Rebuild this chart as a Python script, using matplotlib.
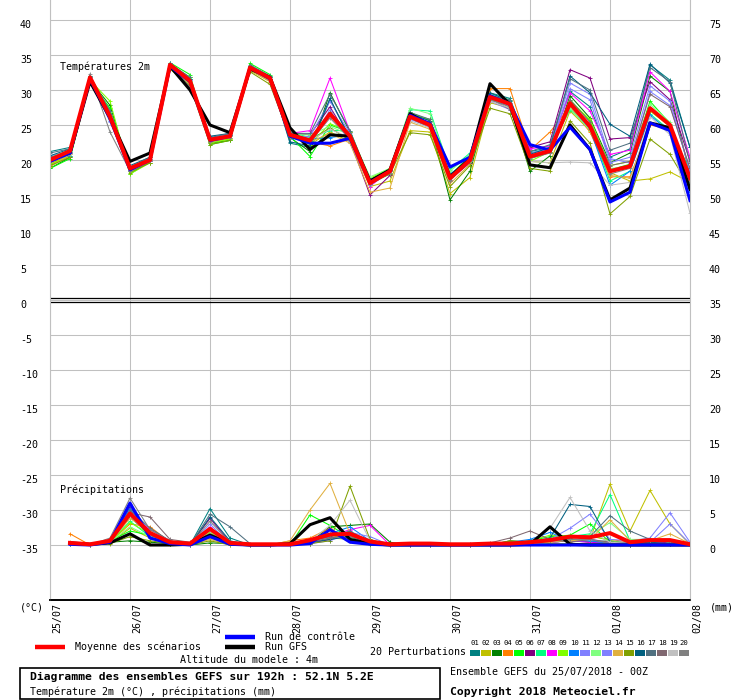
import matplotlib
matplotlib.use('Agg')
import matplotlib.pyplot as plt
from matplotlib.lines import Line2D
from matplotlib.patches import Rectangle
from matplotlib.transforms import ScaledTranslation

plt.rcParams['font.family'] = ['DejaVu Sans Mono', 'DejaVu Sans']

# ---------------- data ----------------
hours_t = list(range(0, 193, 6))          # temperature steps (h since 25/07 00Z)
hours_p = list(range(6, 193, 6))          # precipitation steps
day_ticks = [0, 24, 48, 72, 96, 120, 144, 168, 192]
day_labels = ['25/07', '26/07', '27/07', '28/07', '29/07', '30/07', '31/07', '01/08', '02/08']
temp_ticks = [-35, -30, -25, -20, -15, -10, -5, 0, 5, 10, 15, 20, 25, 30, 35, 40]
mm_ticks = [0, 5, 10, 15, 20, 25, 30, 35, 40, 45, 50, 55, 60, 65, 70, 75]

t_mean = [20.0, 21.3, 31.8, 26.2, 18.8, 20.0, 33.6, 31.3, 22.9, 23.4, 33.2, 31.7, 23.6, 22.8, 26.6, 23.4, 16.7,
          18.4, 26.2, 25.0, 17.4, 20.0, 29.0, 28.0, 20.5, 21.3, 28.1, 24.8, 18.4, 19.1, 27.4, 25.0, 17.4]
t_ctl = [19.8, 21.0, 31.6, 26.0, 18.6, 20.0, 33.4, 31.2, 22.8, 23.4, 33.2, 31.6, 23.4, 22.4, 22.4, 23.1, 16.8,
         18.4, 26.4, 25.2, 19.0, 20.4, 29.2, 28.0, 22.2, 21.4, 24.7, 21.5, 14.0, 15.4, 25.3, 24.2, 14.2]
t_gfs = [20.0, 21.0, 31.2, 26.0, 19.8, 21.0, 33.4, 30.0, 25.0, 23.9, 33.0, 31.8, 24.6, 21.5, 23.6, 23.4, 17.0,
         18.6, 26.6, 25.0, 17.6, 20.2, 30.9, 27.9, 19.3, 18.9, 25.0, 21.5, 14.3, 16.0, 25.3, 24.6, 15.8]

t01 = [21.2,21.8,31.6,26.8,18.6,20.2,33.4,31.6,23.0,23.6,33.0,31.8,22.4,21.8,28.6,23.2,16.6,18.6,26.4,25.8,17.6,20.4,29.6,28.8,21.2,21.8,29.8,27.6,20.4,21.6,33.6,31.4,21.8]
t02 = [19.2,20.6,31.2,27.2,18.4,19.8,33.2,30.8,22.6,23.0,32.8,31.2,23.8,22.2,24.0,22.6,16.2,17.0,24.2,24.0,15.2,17.5,28.2,27.4,19.8,19.6,27.0,24.2,18.2,17.0,17.3,18.3,16.8]
t03 = [18.8,20.4,31.4,27.8,18.4,19.6,33.6,31.8,22.4,22.8,33.4,31.6,23.2,21.2,29.6,24.0,16.8,18.2,26.6,25.2,14.3,18.4,28.8,27.6,18.4,20.6,29.2,26.0,19.6,21.0,32.0,29.8,17.8]
t04 = [19.4,20.8,31.6,26.4,18.8,20.0,33.4,31.2,22.8,23.4,33.0,31.6,23.4,22.6,22.0,23.0,16.4,18.6,26.0,25.4,17.6,20.2,30.2,30.2,21.4,24.0,27.6,24.0,17.6,17.6,25.0,24.4,18.0]
t05 = [18.8,20.2,31.2,27.4,18.0,19.8,33.9,32.2,22.2,22.8,33.8,32.2,23.4,20.5,25.0,24.0,17.2,18.8,26.8,25.6,17.8,20.6,29.2,28.2,20.2,21.2,28.6,25.6,18.6,19.4,28.4,25.2,16.6]
t06 = [19.6,21.0,31.8,26.0,18.8,20.2,33.6,31.0,23.0,23.6,33.2,31.8,23.8,23.6,27.6,22.8,15.0,17.8,26.2,25.0,17.2,19.6,28.8,27.8,21.8,22.6,32.9,31.7,23.0,23.2,31.2,28.6,19.8]
t07 = [19.8,21.2,32.0,27.0,18.6,20.4,33.8,31.6,23.2,23.6,33.4,32.0,24.0,23.2,24.2,24.2,17.0,18.6,27.2,27.0,18.6,21.0,29.4,28.6,21.0,21.6,27.2,24.6,17.0,18.4,26.6,24.2,18.6]
t08 = [20.2,21.4,31.6,26.6,18.4,19.8,33.4,31.4,22.8,23.4,33.2,31.6,23.8,24.2,31.7,24.0,16.2,18.6,26.4,25.4,17.6,20.4,29.0,28.2,21.6,22.0,29.6,27.0,20.8,21.4,32.6,29.8,20.4]
t09 = [19.4,20.6,31.4,28.4,18.0,19.6,33.2,31.8,22.4,23.0,33.0,31.8,23.6,22.2,25.2,24.0,17.4,18.8,26.6,25.8,17.4,20.6,28.6,27.8,19.8,21.2,28.4,25.8,19.2,19.8,27.0,24.8,17.4]
t10 = [20.0,20.6,31.2,25.6,18.6,20.2,33.4,31.0,23.0,23.6,33.2,31.4,23.8,23.0,23.2,23.6,16.8,18.0,26.0,25.2,18.0,20.0,28.6,27.8,20.8,21.0,27.8,24.4,16.4,18.4,26.4,24.0,15.4]
t11 = [20.6,21.2,31.8,25.4,18.8,20.0,33.6,31.4,23.2,23.8,33.4,31.8,23.0,23.4,28.4,23.8,16.8,18.4,25.8,24.8,17.6,19.8,28.4,27.2,20.6,21.8,31.0,29.4,20.2,19.6,29.8,27.8,18.6]
t12 = [20.4,21.4,32.0,26.8,18.8,20.4,33.6,31.8,23.0,23.4,33.4,31.8,23.6,23.6,24.8,23.6,17.6,18.8,27.4,26.6,18.4,20.8,29.4,28.4,20.2,21.4,27.4,24.2,18.8,19.0,28.0,25.4,17.2]
t13 = [20.2,21.0,31.6,25.8,18.4,19.8,33.8,31.6,22.8,23.2,33.2,31.4,23.4,22.4,27.2,22.4,16.4,18.2,26.2,24.8,17.2,19.8,29.0,27.6,21.0,21.6,30.2,28.6,19.6,20.4,30.6,28.4,18.4]
t14 = [19.0,20.8,31.4,26.4,18.6,20.0,33.2,30.8,22.6,23.2,32.8,31.2,23.2,22.6,23.8,22.4,15.4,16.0,25.4,24.4,16.6,19.4,28.6,28.0,20.4,21.0,27.8,24.6,17.8,17.4,25.2,24.2,16.2]
t15 = [19.2,20.4,31.0,26.2,18.2,19.6,33.0,30.6,22.2,22.8,32.6,30.8,23.2,22.8,24.6,22.8,16.6,18.0,23.9,23.6,16.2,19.2,27.4,26.6,18.8,18.4,25.6,22.4,12.3,14.8,23.0,20.8,16.0]
t16 = [20.6,21.6,32.0,26.6,19.2,20.4,33.6,31.6,23.4,23.8,33.4,31.8,22.6,22.0,28.8,23.0,17.0,18.6,26.6,25.6,17.6,20.4,29.6,28.4,20.8,21.8,32.0,29.6,25.1,23.4,33.7,31.0,21.8]
t17 = [21.0,21.6,31.8,27.0,19.0,20.4,33.8,31.8,23.2,23.8,33.6,32.0,23.8,23.8,29.4,24.2,17.2,18.4,26.8,25.8,17.8,20.2,29.2,28.6,21.2,22.2,31.6,30.0,21.4,22.4,33.2,31.2,19.6]
t18 = [20.4,21.2,31.6,25.8,18.6,20.0,33.4,31.2,22.8,23.4,33.0,31.4,23.6,23.0,26.8,23.4,16.6,18.4,26.0,24.6,17.0,20.0,28.8,27.2,20.4,21.2,28.6,25.4,19.2,19.8,29.4,27.6,18.8]
t19 = [19.8,20.8,31.4,26.2,18.6,20.2,33.6,31.2,22.8,23.4,33.2,31.6,23.4,22.8,24.4,23.2,16.8,18.2,25.6,24.6,17.4,19.8,28.4,27.4,19.8,19.6,19.7,19.6,16.4,16.8,26.2,23.6,12.4]
t20 = [20.2,21.0,32.3,24.0,18.4,19.8,33.6,30.4,22.6,23.2,33.4,31.6,23.4,22.6,26.0,23.0,16.6,18.2,26.2,25.0,17.2,19.8,28.6,27.6,20.2,21.0,28.0,24.4,18.0,18.8,27.4,25.0,16.8]

p_mean = [0.3,0.1,0.6,4.5,1.7,0.4,0.2,2.3,0.3,0.1,0.1,0.1,0.7,1.5,1.6,0.5,0.1,0.2,0.2,0.1,0.1,0.2,0.2,0.4,0.7,1.2,1.1,1.7,0.4,0.7,0.7,0.1]
p_ctl = [0.1,0.0,0.4,6.0,1.0,0.2,0.0,1.2,0.1,0.0,0.0,0.0,0.2,2.2,0.4,0.1,0.0,0.0,0.0,0.0,0.0,0.0,0.0,0.0,0.0,0.0,0.0,0.0,0.0,0.0,0.0,0.0]
p_gfs = [0.3,0.1,0.3,1.6,0.0,0.0,0.1,1.4,0.2,0.0,0.0,0.2,2.9,3.9,0.8,0.2,0.0,0.0,0.0,0.0,0.0,0.0,0.0,0.1,2.6,0.1,0.0,0.0,0.0,0.0,0.0,0.0]

p01 = [0.2,0.0,0.5,4.0,1.4,0.3,0.0,5.2,1.0,0.0,0.0,0.0,0.3,1.0,1.4,0.2,0.0,0.0,0.0,0.0,0.0,0.0,0.2,0.3,0.4,0.6,0.8,0.2,0.0,0.2,0.1,0.0]
p02 = [0.1,0.0,0.3,2.4,1.0,0.2,0.0,1.0,0.1,0.0,0.0,0.0,0.4,1.0,0.8,0.0,0.0,0.0,0.0,0.0,0.0,0.0,0.0,0.2,0.4,0.6,0.8,8.7,2.0,7.8,3.0,0.1]
p03 = [0.2,0.0,0.4,0.6,0.4,0.2,0.0,0.3,0.2,0.0,0.0,0.2,0.4,2.6,2.8,3.0,0.4,0.0,0.0,0.0,0.0,0.0,0.6,0.4,0.6,0.8,0.4,0.6,0.2,0.4,0.2,0.0]
p04 = [1.6,0.0,0.4,3.0,2.6,0.4,0.0,1.6,0.2,0.0,0.0,0.6,1.0,2.4,0.6,0.2,0.0,0.0,0.0,0.0,0.0,0.0,0.2,0.4,0.6,1.0,1.2,0.8,0.4,0.4,0.2,0.0]
p05 = [0.2,0.0,0.6,2.0,1.4,0.2,0.0,2.0,0.2,0.0,0.0,0.0,4.3,2.8,1.0,0.2,0.0,0.0,0.0,0.0,0.0,0.0,0.4,0.6,1.2,1.4,3.0,0.4,0.2,0.6,0.2,0.0]
p06 = [0.2,0.0,0.4,5.4,1.6,0.4,0.0,3.8,0.4,0.0,0.0,0.0,0.2,0.8,1.6,0.4,0.0,0.0,0.0,0.0,0.0,0.0,0.0,0.2,0.4,0.6,0.4,0.2,0.0,0.2,0.4,0.0]
p07 = [0.2,0.0,0.4,3.4,1.2,0.2,0.0,2.2,0.2,0.0,0.0,0.0,0.6,1.6,1.4,0.2,0.0,0.0,0.0,0.0,0.0,0.0,0.2,0.4,0.8,1.2,1.6,7.2,0.6,0.8,0.4,0.0]
p08 = [0.2,0.0,0.6,4.4,2.2,0.6,0.0,2.6,0.2,0.0,0.0,0.0,0.4,1.2,2.2,2.8,0.0,0.0,0.0,0.0,0.0,0.0,0.2,0.2,0.4,0.6,0.4,0.4,0.2,0.4,0.2,0.0]
p09 = [0.2,0.0,0.4,3.2,1.6,0.4,0.0,1.8,0.2,0.0,0.0,0.0,0.6,1.4,0.8,0.2,0.0,0.0,0.0,0.0,0.0,0.0,0.2,0.6,1.4,1.2,1.4,0.6,0.2,0.2,0.2,0.0]
p10 = [0.1,0.0,0.6,5.2,1.4,0.2,0.0,1.4,0.1,0.0,0.0,0.0,0.2,1.6,2.6,0.6,0.0,0.0,0.0,0.0,0.0,0.0,0.4,0.8,1.8,0.6,0.6,0.2,0.0,0.2,0.2,0.0]
p11 = [0.2,0.0,0.8,5.8,1.8,0.4,0.0,3.0,0.2,0.0,0.0,0.0,0.4,1.2,1.8,1.2,0.0,0.0,0.0,0.0,0.0,0.0,0.2,0.4,0.8,2.4,4.4,0.8,0.6,1.0,4.6,0.4]
p12 = [0.2,0.0,0.4,2.6,1.2,0.2,0.0,1.2,0.2,0.0,0.0,0.0,0.4,1.0,1.0,0.4,0.0,0.0,0.0,0.0,0.0,0.0,0.2,0.4,0.6,1.0,1.4,3.2,0.8,0.8,0.4,0.0]
p13 = [0.2,0.0,0.6,4.8,1.6,0.4,0.0,2.4,0.2,0.0,0.0,0.0,0.2,0.6,1.8,0.4,0.0,0.0,0.0,0.0,0.0,0.0,0.0,0.2,0.4,0.6,0.8,0.4,0.4,0.4,3.0,0.2]
p14 = [0.4,0.0,0.4,3.8,2.0,0.4,0.0,0.8,0.0,0.0,0.0,0.6,5.0,8.8,1.6,0.2,0.0,0.0,0.0,0.0,0.0,0.0,0.0,0.2,0.4,0.6,0.8,3.6,0.6,0.6,1.6,0.2]
p15 = [0.2,0.0,0.2,1.2,0.6,0.2,0.0,0.6,0.0,0.0,0.0,0.0,0.2,0.6,8.4,0.8,0.0,0.0,0.0,0.0,0.0,0.0,0.6,0.4,0.2,0.2,0.2,0.2,0.0,0.2,0.2,0.0]
p16 = [0.2,0.0,0.6,4.6,1.8,0.4,0.0,4.0,0.6,0.0,0.0,0.0,0.4,0.8,1.2,0.2,0.0,0.0,0.0,0.0,0.0,0.0,0.2,0.4,1.0,5.8,5.5,0.4,0.2,0.4,0.2,0.0]
p17 = [0.2,0.0,0.6,5.0,2.4,0.6,0.0,4.4,2.6,0.2,0.0,0.0,0.6,1.2,2.0,0.4,0.0,0.0,0.0,0.0,0.0,0.0,0.2,0.6,0.8,1.0,1.2,4.2,2.0,0.8,0.4,0.0]
p18 = [0.2,0.0,0.8,4.6,4.0,0.8,0.4,1.6,0.4,0.0,0.0,0.0,0.4,1.0,1.4,0.4,0.0,0.0,0.0,0.0,0.1,0.3,1.0,2.0,0.8,0.4,0.8,0.4,0.2,0.2,0.2,0.0]
p19 = [0.2,0.0,0.6,4.2,1.6,0.4,0.0,2.0,0.2,0.0,0.0,0.0,0.6,2.8,6.4,0.6,0.0,0.0,0.0,0.0,0.0,0.0,0.2,0.4,2.4,6.8,2.0,0.4,0.2,0.2,0.2,0.0]
p20 = [0.2,0.0,1.0,6.7,2.2,0.6,0.0,3.4,0.4,0.0,0.0,0.0,0.6,1.4,1.2,0.4,0.0,0.0,0.0,0.0,0.0,0.0,0.2,0.4,0.6,0.8,0.8,0.2,0.2,0.2,0.2,0.0]

member_names = ['01', '02', '03', '04', '05', '06', '07', '08', '09', '10',
                '11', '12', '13', '14', '15', '16', '17', '18', '19', '20']
member_colors = ['#008080', '#c0c000', '#008000', '#ff8000', '#00ff00', '#800080', '#00ff80', '#ff00ff',
                 '#80ff00', '#0080ff', '#8080ff', '#80ff80', '#8080ff', '#e0b040', '#80a000', '#006080',
                 '#507080', '#806870', '#c0c0c0', '#808080']
temp_members = [t01, t02, t03, t04, t05, t06, t07, t08, t09, t10, t11, t12, t13, t14, t15, t16, t17, t18, t19, t20]
prec_members = [p01, p02, p03, p04, p05, p06, p07, p08, p09, p10, p11, p12, p13, p14, p15, p16, p17, p18, p19, p20]

# ---------------- figure ----------------
W, H = 740, 700
fig = plt.figure(figsize=(W / 100, H / 100), dpi=100)
ax = fig.add_axes([50 / W, 100 / H, 640 / W, 600 / H])
ax2 = ax.twinx()

ylo, yhi = -300 / 7, 300 / 7
ax.set_xlim(0, 192)
ax.set_ylim(ylo, yhi)
ax2.set_ylim(ylo + 35, yhi + 35)

GRID = '#c0c0c0'
FS = 7.2
ax.set_axisbelow(True)
for y in temp_ticks:
    ax.axhline(y, color=GRID, lw=0.75, zorder=0)
for x in day_ticks:
    ax.axvline(x, color=GRID, lw=0.75, zorder=0)
ax.axhline(0.22, color='black', lw=0.9, zorder=1)
ax.axhline(-0.22, color='black', lw=0.9, zorder=1)

for a in (ax, ax2):
    a.spines['top'].set_visible(False)
    a.spines['left'].set_color(GRID)
    a.spines['right'].set_color(GRID)
    a.spines['left'].set_linewidth(0.75)
    a.spines['right'].set_linewidth(0.75)
    a.spines['bottom'].set_color('black')
    a.spines['bottom'].set_linewidth(1.2)

ax.set_yticks(temp_ticks, labels=[str(t) for t in temp_ticks], ha='left', va='top', fontsize=FS)
ax.tick_params(axis='y', length=0, pad=21.6)
ax2.set_yticks(mm_ticks, labels=[str(t) for t in mm_ticks], ha='left', va='top', fontsize=FS)
ax2.tick_params(axis='y', length=0, pad=13.7)
ax.set_xticks(day_ticks, labels=day_labels, rotation=90, va='top', ha='center', fontsize=FS)
ax.tick_params(axis='x', length=0, pad=2)
for lbl in ax.get_xticklabels():
    lbl.set_transform(lbl.get_transform() + ScaledTranslation(7.5 / 100, 0, fig.dpi_scale_trans))

# members
for vals, col in zip(temp_members, member_colors):
    ax.plot(hours_t, vals, color=col, lw=0.75, marker='+', ms=3, mew=0.6, zorder=2)
for vals, col in zip(prec_members, member_colors):
    ax2.plot(hours_p, vals, color=col, lw=0.75, marker='+', ms=3, mew=0.6, zorder=2)

ax.plot(hours_t, t_gfs, color='black', lw=2.2, zorder=3)
ax.plot(hours_t, t_ctl, color='#0000ff', lw=2.2, zorder=4)
ax.plot(hours_t, t_mean, color='#ff0000', lw=2.9, zorder=5)
ax2.plot(hours_p, p_gfs, color='black', lw=2.2, zorder=3)
ax2.plot(hours_p, p_ctl, color='#0000ff', lw=2.2, zorder=4)
ax2.plot(hours_p, p_mean, color='#ff0000', lw=2.9, zorder=5)


def px(x, y):
    return (x / W, 1 - y / H)


fig.text(*px(60, 67), 'Températures 2m', fontsize=FS, va='center', ha='left')
fig.text(*px(60, 490), 'Précipitations', fontsize=FS, va='center', ha='left')
fig.text(*px(20, 607), '(°C)', fontsize=FS, va='center', ha='left')
fig.text(*px(710, 607), '(mm)', fontsize=FS, va='center', ha='left')

# legend
def legline(x0, x1, y, color, lw):
    fig.add_artist(Line2D([x0 / W, x1 / W], [1 - y / H, 1 - y / H], transform=fig.transFigure,
                          color=color, lw=lw, solid_capstyle='butt'))


legline(35, 65, 647, '#ff0000', 3.2)
fig.text(*px(75, 647), 'Moyenne des scénarios', fontsize=FS, va='center', ha='left')
legline(225, 255, 637, '#0000ff', 3.2)
fig.text(*px(265, 637), 'Run de contrôle', fontsize=FS, va='center', ha='left')
legline(225, 255, 647, 'black', 3.2)
fig.text(*px(265, 647), 'Run GFS', fontsize=FS, va='center', ha='left')
fig.text(*px(180, 660), 'Altitude du modele : 4m', fontsize=FS, va='center', ha='left')
fig.text(*px(370, 652), '20 Perturbations', fontsize=FS, va='center', ha='left')

for k, (name, col) in enumerate(zip(member_names, member_colors)):
    x0 = 470 + 11 * k
    fig.add_artist(Rectangle((x0 / W, 1 - 655.5 / H), 10 / W, 6 / H, transform=fig.transFigure,
                             facecolor=col, edgecolor='none'))
    fig.text(*px(x0 + 5, 643), name, fontsize=5.2, va='center', ha='center')

fig.add_artist(Rectangle((20 / W, 1 - 699 / H), 420 / W, 31 / H, transform=fig.transFigure,
                         facecolor='none', edgecolor='black', lw=1.2))
fig.text(*px(30, 677), 'Diagramme des ensembles GEFS sur 192h : 52.1N 5.2E', fontsize=8.2,
         fontweight='bold', va='center', ha='left')
fig.text(*px(30, 692), 'Température 2m (°C) , précipitations (mm)', fontsize=FS, va='center', ha='left')
fig.text(*px(450, 672), 'Ensemble GEFS du 25/07/2018 - 00Z', fontsize=FS, va='center', ha='left')
fig.text(*px(450, 692), 'Copyright 2018 Meteociel.fr', fontsize=8.2, fontweight='bold',
         va='center', ha='left')

fig.savefig('out.png', dpi=100)
